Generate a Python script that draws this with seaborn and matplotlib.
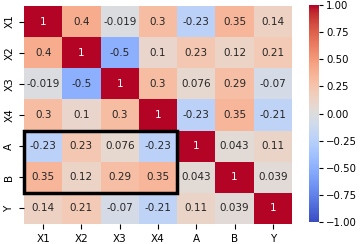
import numpy as np
import pandas as pd
import matplotlib
matplotlib.use("Agg")
import matplotlib.pyplot as plt
import seaborn as sns
from matplotlib.patches import Rectangle

labels = ["X1", "X2", "X3", "X4", "A", "B", "Y"]
row_x1 = [1, 0.4, -0.019, 0.3, -0.23, 0.35, 0.14]
row_x2 = [0.4, 1, -0.5, 0.1, 0.23, 0.12, 0.21]
row_x3 = [-0.019, -0.5, 1, 0.3, 0.076, 0.29, -0.07]
row_x4 = [0.3, 0.1, 0.3, 1, -0.23, 0.35, -0.21]
row_a = [-0.23, 0.23, 0.076, -0.23, 1, 0.043, 0.11]
row_b = [0.35, 0.12, 0.29, 0.35, 0.043, 1, 0.039]
row_y = [0.14, 0.21, -0.07, -0.21, 0.11, 0.039, 1]
cbar_ticks = [-1, -0.75, -0.5, -0.25, 0, 0.25, 0.5, 0.75, 1]

corr = pd.DataFrame([row_x1, row_x2, row_x3, row_x4, row_a, row_b, row_y],
                    index=labels, columns=labels)

fig = plt.figure(figsize=(3.6, 2.44), dpi=100)
ax = fig.add_axes([24/360, 1 - 224/244, 268/360, 218/244])
cax = fig.add_axes([309/360, 1 - 222/244, 10/360, 217/244])
sns.heatmap(corr, annot=True, cmap="coolwarm", vmin=-1, vmax=1, ax=ax, cbar_ax=cax,
            annot_kws={"fontsize": 7.5})
ax.tick_params(labelsize=7.5)
cax.tick_params(labelsize=7.3, pad=2, length=3)
cax.set_yticks(cbar_ticks)
cax.set_yticklabels([f"{v:.2f}".replace("-", "\u2212") for v in cbar_ticks])
ax.add_patch(Rectangle((0, 4), 4, 2, fill=False, edgecolor="black", lw=2.5, clip_on=False))
fig.savefig("out.png", dpi=100)
